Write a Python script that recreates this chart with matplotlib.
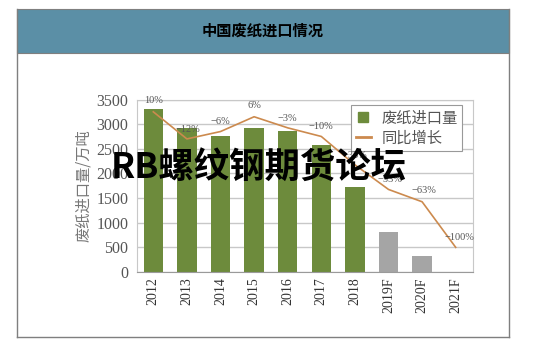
import matplotlib
matplotlib.use('Agg')
import matplotlib.pyplot as plt
from matplotlib.lines import Line2D
from matplotlib.patches import Rectangle

# data
years = ['2012', '2013', '2014', '2015', '2016', '2017', '2018', '2019F', '2020F', '2021F']
imports = [3310, 2925, 2760, 2930, 2860, 2580, 1720, 810, 320, 0]
forecast = [False, False, False, False, False, False, False, True, True, True]
growth = [10, -12, -6, 6, -3, -10, -33, -53, -63, -100]
growth_labels = ['10%', '−12%', '−6%', '6%', '−3%', '−10%', '−33%', '−53%', '−63%', '−100%']

green = '#6d8b3c'
grey_bar = '#a5a5a5'
orange = '#cc8a4e'
cjk = ['Noto Sans CJK SC', 'DejaVu Sans']
serif = ['Liberation Serif', 'DejaVu Serif']
plt.rcParams['font.family'] = serif

W, H = 544, 351
fig = plt.figure(figsize=(W / 100, H / 100), dpi=100)

# header band + panel border
fig.patches.append(Rectangle((17 / W, 1 - 53 / H), 492 / W, 44 / H, transform=fig.transFigure,
                             facecolor='#5b8fa6', edgecolor='#7f7f7f', linewidth=0.8))
for xs, ys in [([17, 17], [9, 337]), ([509, 509], [9, 337]), ([17, 509], [337, 337])]:
    fig.lines.append(Line2D([x / W for x in xs], [1 - y / H for y in ys],
                            transform=fig.transFigure, color='#7f7f7f', linewidth=1.0))
fig.text(263 / W, 1 - 31 / H, '中国废纸进口情况', ha='center', va='center',
         fontsize=11, fontweight='bold', family=cjk, color='black')

ax = fig.add_axes([136.5 / W, 79 / H, 336 / W, 172.5 / H])
x = list(range(len(years)))
colors = [grey_bar if f else green for f in forecast]
ax.bar(x, imports, width=0.58, color=colors, zorder=2)
ax.set_xlim(-0.5, len(years) - 0.5)
ax.set_ylim(0, 3500)
ax.set_yticks(range(0, 3501, 500))
ax.set_xticks(x)
ax.set_xticklabels(years, rotation=90, fontsize=10, color='#333333')
ax.tick_params(axis='y', labelsize=11.5, labelcolor='#555555', length=0, pad=6)
ax.tick_params(axis='x', length=0, pad=4)
ax.grid(axis='y', color='#c8c8c8', linewidth=1.0, zorder=0)
for s in ['top', 'right', 'left']:
    ax.spines[s].set_color('#c8c8c8')
ax.spines['bottom'].set_color('#9a9a9a')
ax.set_ylabel('废纸进口量/万吨', family=cjk, fontsize=11, color='#777777', labelpad=3)

# growth line on hidden secondary scale
ax2 = ax.twinx()
ax2.set_ylim(-120, 20)
ax2.plot(x, growth, color=orange, linewidth=1.2, zorder=3)
ax2.set_yticks([])
for s in ax2.spines.values():
    s.set_visible(False)
offsets = [(0, 8), (1, 7), (0, 7), (0, 8), (0, 7), (0, 7), (0, 7), (1, 7), (1, 8), (3, 7)]
for xi, gi, lab, (dx, dy) in zip(x, growth, growth_labels, offsets):
    ax2.annotate(lab, (xi, gi), xytext=(dx, dy), textcoords='offset points',
                 ha='center', va='center', fontsize=7.5, color='#555555')

handles = [Line2D([], [], linestyle='none', marker='s', markersize=7, color=green),
           Line2D([], [], color=orange, linewidth=2)]
leg = ax.legend(handles, ['废纸进口量', '同比增长'], loc='upper left',
                bbox_to_anchor=(351 / W, 1 - 105 / H), bbox_transform=fig.transFigure,
                prop={'family': cjk, 'size': 11}, fancybox=False, framealpha=1,
                edgecolor='#999999', borderpad=0.3, labelspacing=0.2,
                handlelength=1.0, handletextpad=0.7, borderaxespad=0)
leg.get_frame().set_linewidth(0.8)
for t in leg.get_texts():
    t.set_color('#555555')
leg.set_zorder(5)

# overlay watermark
fig.text(259 / W, 1 - 167 / H, 'RB螺纹钢期货论坛', ha='center', va='center',
         fontsize=25.5, fontweight='bold', family=cjk, color='black', zorder=10)

fig.savefig('out.png', dpi=100)
